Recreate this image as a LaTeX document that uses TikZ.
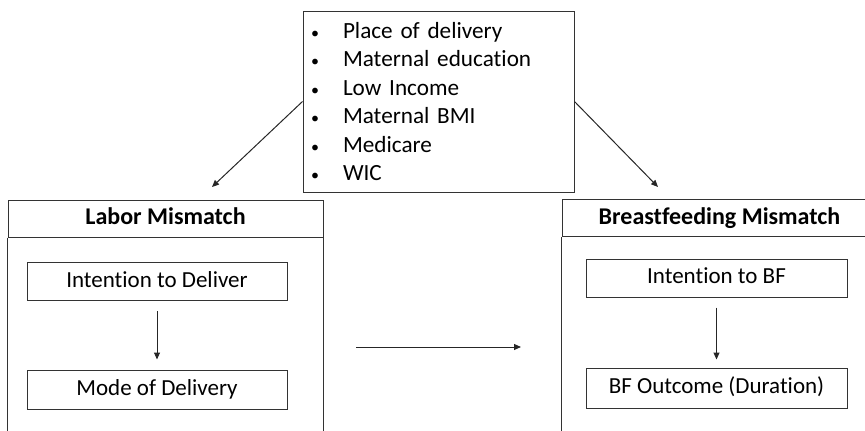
\documentclass[tikz,border=0pt]{standalone}
\usepackage{fontspec}
\setmainfont{Carlito}[Ligatures={NoCommon}]
\usetikzlibrary{arrows.meta}

\newcommand{\dotitem}{\makebox[24pt]{\fontsize{16}{16}\selectfont\textbullet}\hspace{16pt}}

\begin{document}
\begin{tikzpicture}[x=1pt,y=-1pt,
  % one pixel of the reference is one point here
  font=\fontsize{23}{28.4}\selectfont,
  every node/.style={inner sep=0pt},
  frame/.style={draw=black!80,line width=1pt},
  link/.style={draw=black!85,line width=1pt,-{Triangle[length=7pt,width=6pt]}},
  headbox/.style={frame,minimum width=315,minimum height=37,text height=17,text depth=5,
    font=\fontsize{24}{28.4}\selectfont\bfseries},
  stepbox/.style={frame,minimum width=260,minimum height=38,text height=16,text depth=5}]

\clip (0,0) rectangle (865,431);

% confounders at the top
\node[frame,minimum width=271,minimum height=181,text width=271,align=left,
  font=\fontsize{23.2}{28.5}\selectfont] (factors) at (438.5,101.5) {%
  \dotitem Place of delivery\\
  \dotitem Maternal education\\
  \dotitem Low Income\\
  \dotitem Maternal BMI\\
  \dotitem Medicare\\
  \dotitem WIC};

% the two mismatch panels
\node[headbox] (labhead) at (165.5,218.5) {Labor Mismatch};
\node[headbox] (bfhead) at (719.5,218) {Breastfeeding Mismatch};
\draw[frame] (labhead.south west) -- ++(0,240);
\draw[frame] (labhead.south east) -- ++(0,240);
\draw[frame] (bfhead.south west) -- ++(0,240);
\draw[frame] (bfhead.south east) -- ++(0,240);

\node[stepbox] (intdel) at (157,281.5) {Intention to Deliver};
\node[stepbox,minimum height=39] (moddel) at (157,389.5) {Mode of Delivery};
\node[stepbox,minimum width=261] (intbf) at (716.5,278) {Intention to BF};
\node[stepbox,minimum width=261,minimum height=40] (bfout) at (716.5,388) {BF Outcome (Duration)};

\coordinate (labin) at (212,187);
\coordinate (bfin) at (658,187);
\coordinate (midfrom) at (356,347);
\coordinate (midto) at (521,347);

\draw[link] (factors.west) -- (labin);
\draw[link] (factors.east) -- (bfin);
\draw[link,shorten <=10pt,shorten >=10pt] (intdel) -- (moddel);
\draw[link,shorten <=10pt,shorten >=8pt] (intbf) -- (bfout);
\draw[link] (midfrom) -- (midto);
\end{tikzpicture}
\end{document}
